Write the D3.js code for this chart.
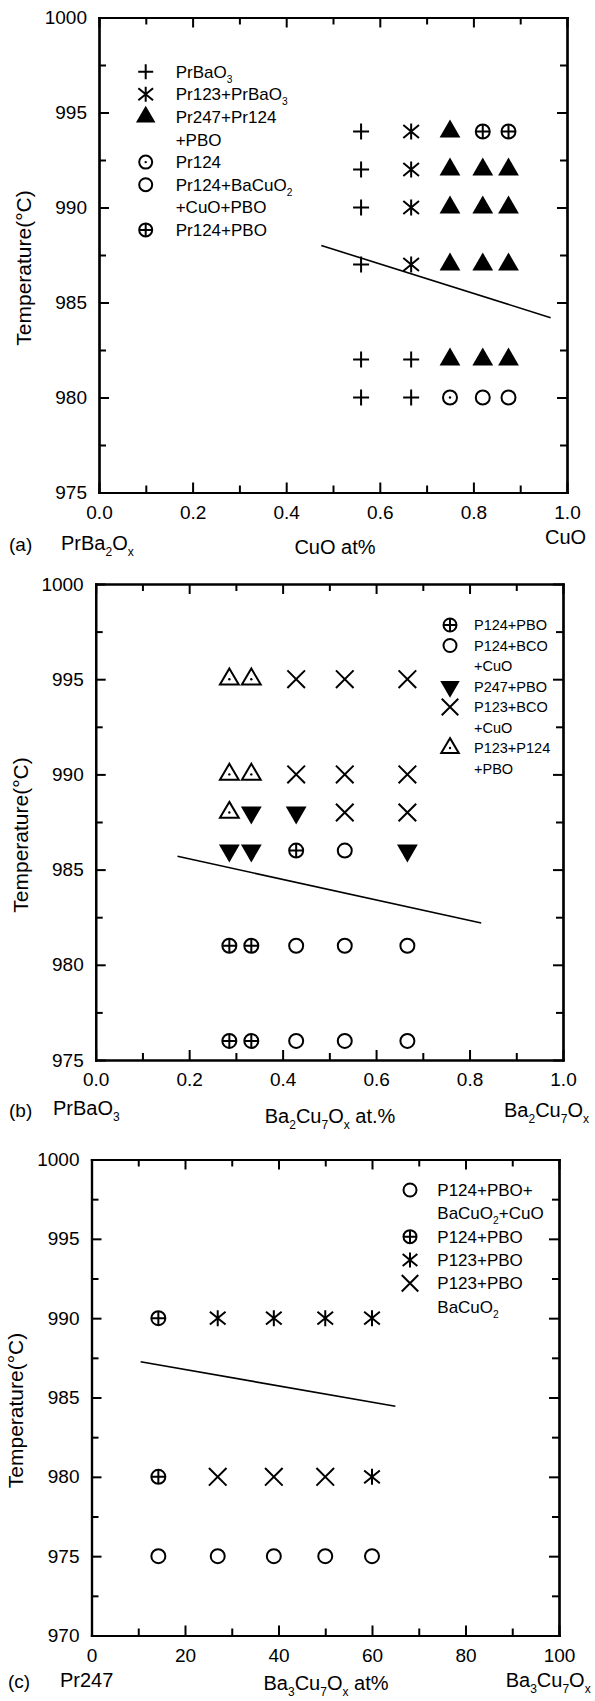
<!DOCTYPE html>
<html>
<head>
<meta charset="utf-8">
<script src="https://cdn.jsdelivr.net/npm/d3@7"></script>
<style>
  body { margin: 0; background: #fff; }
  svg { display: block; font-family: "Liberation Sans", Arial, Helvetica, sans-serif; }
</style>
</head>
<body>
<svg id="chart" width="595" height="1701"></svg>
<script>
// ---- panel (a): PrBa2Ox - CuO ----
const aX = [0.56, 0.667, 0.75, 0.82, 0.875];
const aT = [994, 992, 990, 987, 982, 980];
const aSym = [
  ["plus", "star", "triUp", "oplus", "oplus"],
  ["plus", "star", "triUp", "triUp", "triUp"],
  ["plus", "star", "triUp", "triUp", "triUp"],
  ["plus", "star", "triUp", "triUp", "triUp"],
  ["plus", "plus", "triUp", "triUp", "triUp"],
  ["plus", "plus", "circleDot", "circle", "circle"]
];
const aLine = [[0.475, 988.0], [0.965, 984.2]];
const aLegend = [
  ["plus", "PrBaO_3"], ["star", "Pr123+PrBaO_3"], ["triUp", "Pr247+Pr124"], [null, "+PBO"],
  ["circleDot", "Pr124"], ["circle", "Pr124+BaCuO_2"], [null, "+CuO+PBO"], ["oplus", "Pr124+PBO"]
];

// ---- panel (b): PrBaO3 - Ba2Cu7Ox ----
const bX = [0.286, 0.333, 0.429, 0.533, 0.667];
const bT = [995, 990, 988, 986, 981, 976];
const bSym = [
  ["triDot", "triDot", "cross", "cross", "cross"],
  ["triDot", "triDot", "cross", "cross", "cross"],
  ["triDot", "triDown", "triDown", "cross", "cross"],
  ["triDown", "triDown", "oplus", "circle", "triDown"],
  ["oplus", "oplus", "circle", "circle", "circle"],
  ["oplus", "oplus", "circle", "circle", "circle"]
];
const bLine = [[0.175, 985.7], [0.825, 982.2]];
const bLegend = [
  ["oplus", "P124+PBO"], ["circle", "P124+BCO"], [null, "+CuO"], ["triDown", "P247+PBO"],
  ["cross", "P123+BCO"], [null, "+CuO"], ["triDot", "P123+P124"], [null, "+PBO"]
];

// ---- panel (c): Pr247 - Ba3Cu7Ox ----
const cX = [14.3, 27, 39, 50, 60];
const cT = [990, 980, 975];
const cSym = [
  ["oplus", "star", "star", "star", "star"],
  ["oplus", "cross", "cross", "cross", "star"],
  ["circle", "circle", "circle", "circle", "circle"]
];
const cLine = [[10.5, 987.25], [65, 984.45]];
const cLegend = [
  ["circle", "P124+PBO+"], [null, "BaCuO_2+CuO"], ["oplus", "P124+PBO"],
  ["star", "P123+PBO"], ["cross", "P123+PBO"], [null, "BaCuO_2"]
];

// tick values
const fracTicks = [0, 0.2, 0.4, 0.6, 0.8, 1.0];
const fracMinor = [0.1, 0.3, 0.5, 0.7, 0.9];
const pctTicks = [0, 20, 40, 60, 80, 100];
const pctMinor = [10, 30, 50, 70, 90];
const tTicksAB = [975, 980, 985, 990, 995, 1000];
const tMinorAB = [977.5, 982.5, 987.5, 992.5, 997.5];
const tTicksC = [970, 975, 980, 985, 990, 995, 1000];
const tMinorC = [972.5, 977.5, 982.5, 987.5, 992.5, 997.5];

let svg = d3.select("#chart");

// text with "_x" subscripts
function addRich(textSel, str, fs) {
  let parts = str.split(/(_.)/).filter(p => p !== "");
  let shift = 0;
  parts.forEach(p => {
    if (p[0] === "_") {
      textSel.append("tspan").attr("font-size", fs * 0.6).attr("dy", 0.28 * fs - shift).text(p[1]);
      shift = 0.28 * fs;
    } else {
      textSel.append("tspan").attr("dy", -shift).text(p);
      shift = 0;
    }
  });
}

function drawSymbol(g, type, s) {
  let r = s / 2, sw = 2;
  let line = sel => sel.attr("fill", "none").attr("stroke", "#000").attr("stroke-width", sw);
  let w = s * 1.3, h = s * 1.12;
  if (type === "plus") {
    line(g.append("path").attr("d", `M${-r},0H${r}M0,${-r}V${r}`));
  } else if (type === "star") {
    let dx = r * 0.98, dy = r * 0.8;
    line(g.append("path").attr("d", `M0,${-r}V${r}M${-dx},${-dy}L${dx},${dy}M${-dx},${dy}L${dx},${-dy}`));
  } else if (type === "cross") {
    let d = r * 1.1;
    line(g.append("path").attr("d", `M${-d},${-d}L${d},${d}M${-d},${d}L${d},${-d}`));
  } else if (type === "triUp") {
    g.append("path").attr("d", `M0,${-2 * h / 3}L${w / 2},${h / 3}L${-w / 2},${h / 3}Z`).attr("fill", "#000");
  } else if (type === "triDown") {
    g.append("path").attr("d", `M0,${2 * h / 3}L${w / 2},${-h / 3}L${-w / 2},${-h / 3}Z`).attr("fill", "#000");
  } else if (type === "triDot") {
    let ww = w - 2, hh = h - 2;
    line(g.append("path").attr("d", `M0,${-2 * hh / 3}L${ww / 2},${hh / 3}L${-ww / 2},${hh / 3}Z`));
    g.append("circle").attr("r", 1.2).attr("fill", "#000");
  } else if (type === "circle") {
    line(g.append("circle").attr("r", r - 1));
  } else if (type === "circleDot") {
    line(g.append("circle").attr("r", r - 1));
    g.append("circle").attr("r", 1.2).attr("fill", "#000");
  } else if (type === "oplus") {
    let rr = r - 1;
    line(g.append("circle").attr("r", rr));
    line(g.append("path").attr("d", `M${-rr},0H${rr}M0,${-rr}V${rr}`));
  }
}

const panels = [
  {
    xs: aX, ts: aT, sym: aSym, line: aLine, legend: aLegend,
    left: 99, right: 567, top: 17.5, bottom: 492.5,
    xDomain: [0, 1], yDomain: [975, 1000],
    xTicks: fracTicks, xMinor: fracMinor, yTicks: tTicksAB, yMinor: tMinorAB, xFmt: d3.format(".1f"),
    titleX: 23.5, size: 16,
    legSymX: 145.7, legTextX: 175.7, legY: 71.7, legStep: 22.6, legFs: 17, legSize: 15,
    labels: [
      { t: "(a)", x: 9, y: 544, fs: 19 },
      { t: "PrBa_2O_x", x: 61, y: 543, fs: 20 },
      { t: "CuO at%", x: 335, y: 547, fs: 20, anchor: "middle" },
      { t: "CuO", x: 545, y: 537, fs: 20 }
    ]
  },
  {
    xs: bX, ts: bT, sym: bSym, line: bLine, legend: bLegend,
    left: 95.7, right: 563, top: 584, bottom: 1060,
    xDomain: [0, 1], yDomain: [975, 1000],
    xTicks: fracTicks, xMinor: fracMinor, yTicks: tTicksAB, yMinor: tMinorAB, xFmt: d3.format(".1f"),
    titleX: 20, size: 16,
    legSymX: 450, legTextX: 474, legY: 625, legStep: 20.5, legFs: 14.5, legSize: 15,
    labels: [
      { t: "(b)", x: 9, y: 1110, fs: 19 },
      { t: "PrBaO_3", x: 53, y: 1108, fs: 20 },
      { t: "Ba_2Cu_7O_x at.%", x: 330, y: 1116, fs: 20, anchor: "middle" },
      { t: "Ba_2Cu_7O_x", x: 504, y: 1110, fs: 20 }
    ]
  },
  {
    xs: cX, ts: cT, sym: cSym, line: cLine, legend: cLegend,
    left: 91.5, right: 559, top: 1159.5, bottom: 1635.5,
    xDomain: [0, 100], yDomain: [970, 1000],
    xTicks: pctTicks, xMinor: pctMinor, yTicks: tTicksC, yMinor: tMinorC, xFmt: d3.format("d"),
    titleX: 15, size: 16,
    legSymX: 410, legTextX: 437.3, legY: 1190, legStep: 23.33, legFs: 17, legSize: 15,
    labels: [
      { t: "(c)", x: 8, y: 1681, fs: 19 },
      { t: "Pr247", x: 60, y: 1680, fs: 20 },
      { t: "Ba_3Cu_7O_x at%", x: 326, y: 1683, fs: 20, anchor: "middle" },
      { t: "Ba_3Cu_7O_x", x: 505.7, y: 1680, fs: 20 }
    ]
  }
];

function styleAxis(g) {
  g.attr("font-family", null).attr("font-size", 19);
  g.selectAll(".domain").attr("stroke", "#000").attr("stroke-width", 2.2).attr("stroke-linecap", "square");
  g.selectAll(".tick line").attr("stroke", "#000").attr("stroke-width", 2);
  g.selectAll(".tick text").attr("fill", "#000");
}

panels.forEach(p => {
  let x = d3.scaleLinear().domain(p.xDomain).range([p.left, p.right]);
  let y = d3.scaleLinear().domain(p.yDomain).range([p.bottom, p.top]);
  let g = svg.append("g");

  // minor ticks first
  g.append("g").attr("transform", `translate(0,${p.bottom})`)
    .call(d3.axisBottom(x).tickValues(p.xMinor).tickFormat("").tickSizeInner(-7).tickSizeOuter(0)).call(styleAxis);
  g.append("g").attr("transform", `translate(0,${p.top})`)
    .call(d3.axisTop(x).tickValues(p.xMinor).tickFormat("").tickSizeInner(-7).tickSizeOuter(0)).call(styleAxis);
  g.append("g").attr("transform", `translate(${p.left},0)`)
    .call(d3.axisLeft(y).tickValues(p.yMinor).tickFormat("").tickSizeInner(-7).tickSizeOuter(0)).call(styleAxis);
  g.append("g").attr("transform", `translate(${p.right},0)`)
    .call(d3.axisRight(y).tickValues(p.yMinor).tickFormat("").tickSizeInner(-7).tickSizeOuter(0)).call(styleAxis);

  // major ticks
  g.append("g").attr("transform", `translate(0,${p.bottom})`)
    .call(d3.axisBottom(x).tickValues(p.xTicks).tickFormat(p.xFmt).tickSizeInner(-10).tickSizeOuter(0).tickPadding(13)).call(styleAxis);
  g.append("g").attr("transform", `translate(0,${p.top})`)
    .call(d3.axisTop(x).tickValues(p.xTicks).tickFormat("").tickSizeInner(-10).tickSizeOuter(0)).call(styleAxis);
  g.append("g").attr("transform", `translate(${p.left},0)`)
    .call(d3.axisLeft(y).tickValues(p.yTicks).tickFormat(d3.format("d")).tickSizeInner(-10).tickSizeOuter(0).tickPadding(12)).call(styleAxis);
  g.append("g").attr("transform", `translate(${p.right},0)`)
    .call(d3.axisRight(y).tickValues(p.yTicks).tickFormat("").tickSizeInner(-10).tickSizeOuter(0)).call(styleAxis);

  // y title
  g.append("text")
    .attr("transform", `translate(${p.titleX},${(p.top + p.bottom) / 2 + 13}) rotate(-90)`)
    .attr("text-anchor", "middle")
    .attr("dominant-baseline", "central")
    .attr("font-size", 21)
    .text("Temperature(°C)");

  // boundary line
  g.append("path")
    .datum(p.line)
    .attr("d", d3.line().x(d => x(d[0])).y(d => y(d[1])))
    .attr("fill", "none")
    .attr("stroke", "#000")
    .attr("stroke-width", 1.6);

  // data points
  let pts = [];
  p.ts.forEach((t, i) => p.xs.forEach((v, j) => pts.push({ v: v, t: t, sym: p.sym[i][j] })));
  g.selectAll(".pt")
    .data(pts)
    .enter().append("g")
    .attr("class", "pt")
    .attr("transform", d => `translate(${x(d.v)},${y(d.t)})`)
    .each(function (d) { drawSymbol(d3.select(this), d.sym, p.size); });

  // legend
  p.legend.forEach((item, i) => {
    let cy = p.legY + i * p.legStep;
    if (item[0]) drawSymbol(g.append("g").attr("transform", `translate(${p.legSymX},${cy})`), item[0], p.legSize);
    let t = g.append("text").attr("x", p.legTextX).attr("y", cy + 0.36 * p.legFs).attr("font-size", p.legFs);
    addRich(t, item[1], p.legFs);
  });

  // labels under the axis
  p.labels.forEach(l => {
    let t = g.append("text").attr("x", l.x).attr("y", l.y + 0.36 * l.fs)
      .attr("font-size", l.fs).attr("text-anchor", l.anchor || "start");
    addRich(t, l.t, l.fs);
  });
});
</script>
</body>
</html>
